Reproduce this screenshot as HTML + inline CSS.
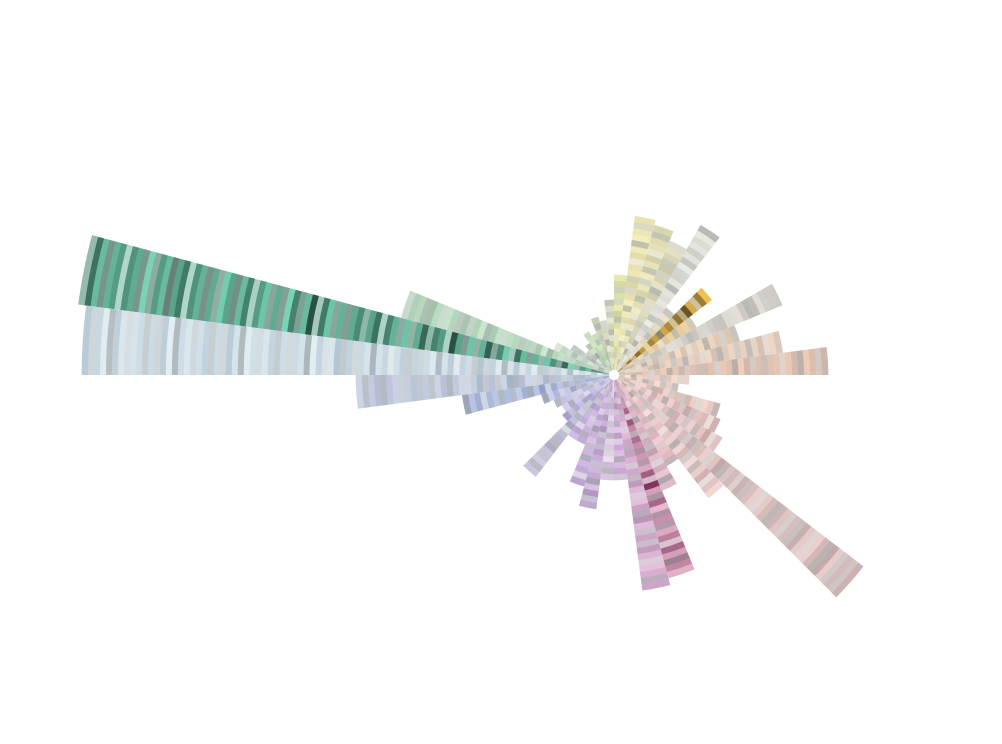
<!DOCTYPE html>
<html><head><meta charset="utf-8"><style>
html,body{margin:0;padding:0;background:#fff;}
svg{display:block;}
</style></head><body>
<svg id="chart" width="1002" height="744" viewBox="0 0 1002 744">
<g id="wedges"></g>
<circle cx="614" cy="375" r="5" fill="#fff"/>
</svg>
<script>
// hue bins (7.5 degrees each, counter-clockwise from east)
const binStart = [0,7.5,15,22.5,30,37.5,45,52.5,60,67.5,75,82.5,90,97.5,105,112.5,120,127.5,135,142.5,150,157.5,165,172.5,180,187.5,195,202.5,210,217.5,225,232.5,240,247.5,255,262.5,270,277.5,285,292.5,300,307.5,315,322.5,330,337.5,345,352.5];
const binCount = [209,165,125,177,90,118,80,168,140,150,155,95,70,50,55,40,45,35,30,45,60,215,535,527,253,148,70,60,55,60,123,70,70,110,130,100,100,212,205,120,100,150,309,120,110,105,60,70];
const binColorA = ["#f2ccb8","#f0d8c8","#f4dcc4","#e8e4dc","#f4dcb0","#f0c050","#f0e8d0","#ecece4","#e8e4c8","#f2eec4","#f6f2c0","#eef2b8","#e8e8c8","#e4ead0","#d4dcc0","#d0ecc0","#d4ecc4","#c8d8c0","#d4dcd4","#ccd8d0","#d4e8d4","#c8e8d0","#78d4b4","#e2eef2","#d4dcec","#c0cce8","#ccd0ec","#d4d4f0","#dcd4f4","#cac0ec","#d4d4e4","#dccaf0","#dcc8ec","#dcc4ec","#d8c0e4","#ecdcf0","#e4c4ec","#ecc4e4","#e8b8d0","#ecc4d4","#f4ccd4","#f8dcdc","#f0d4d4","#f4d4d4","#f8d4d4","#f8dcd4","#f8dcd4","#fae2d4"];
const binColorB = ["#bcaea6","#c4b4a8","#ccb8a8","#b8b4ae","#d0b890","#4a3818","#c8c0a4","#c4c4bc","#c0bca0","#ccc8a0","#d8d2a0","#c8cc98","#c0c0a8","#b8bca8","#a8ac98","#a8c098","#a8c098","#98a494","#a8b0a8","#a0aca4","#a8bca8","#98b8a0","#16302a","#a8bccc","#9ca8bc","#8894bc","#9c9cc0","#a4a4c8","#aca0cc","#9a90c4","#9c9ab8","#a890c4","#a890c0","#a088b8","#9c84b0","#b8a8c4","#b088b8","#ac88a8","#6a1440","#b89aa8","#c89aa4","#c4a0a0","#b8a0a0","#c0a0a0","#bca0a0","#c4a8a0","#c4aca4","#c8b0a8"];
</script>
<script>
(function(){
  const cx=614, cy=375, hole=5, binW=7.5, seg=6;
  const pattern=[0.1,0.35,0.2,0.5,0.15,0.6,0.3,0.05,0.45,0.25,0.7,0.2,0.4,0.1,0.55,0.3,0.8,0.15,0.35,0.5,0.0,0.65,0.25,0.4];
  const greys=["#c8cccc","#9ea4a4","#e4e6e6","#b4b8b8"];
  const g=document.getElementById('wedges');
  function hex(h){return [parseInt(h.substr(1,2),16),parseInt(h.substr(3,2),16),parseInt(h.substr(5,2),16)];}
  function mixA(a,b,t){const A=hex(a),B=hex(b);return A.map((v,i)=>Math.round(v+(B[i]-v)*t));}
  function pt(r,deg){const a=-deg*Math.PI/180;return [cx+r*Math.cos(a), cy+r*Math.sin(a)];}
  for(let i=0;i<binStart.length;i++){
    const a0=binStart[i], a1=a0+binW, len=binCount[i];
    const n=Math.max(1,Math.round(len/seg));
    const step=len/n;
    for(let k=0;k<n;k++){
      const r0=hole+k*step, r1=hole+(k+1)*step+0.4;
      const p1=pt(r0,a0),p2=pt(r1,a0),p3=pt(r1,a1),p4=pt(r0,a1);
      const t=pattern[(k+i*5)%pattern.length];
      let c=mixA(binColorA[i],binColorB[i],t);
      const gi=(k*7+i*3)%11;
      if(gi<4){const G=hex(greys[gi]);c=c.map((v,j)=>Math.round(v*0.45+G[j]*0.55));}
      const path=document.createElementNS('http://www.w3.org/2000/svg','path');
      path.setAttribute('d','M'+p1[0]+','+p1[1]+' L'+p2[0]+','+p2[1]+' A'+r1+','+r1+' 0 0 0 '+p3[0]+','+p3[1]+' L'+p4[0]+','+p4[1]+' A'+r0+','+r0+' 0 0 1 '+p1[0]+','+p1[1]+'Z');
      path.setAttribute('fill','rgb('+c.join(',')+')');
      
      
      g.appendChild(path);
    }
  }
})();
</script>
</body></html>
